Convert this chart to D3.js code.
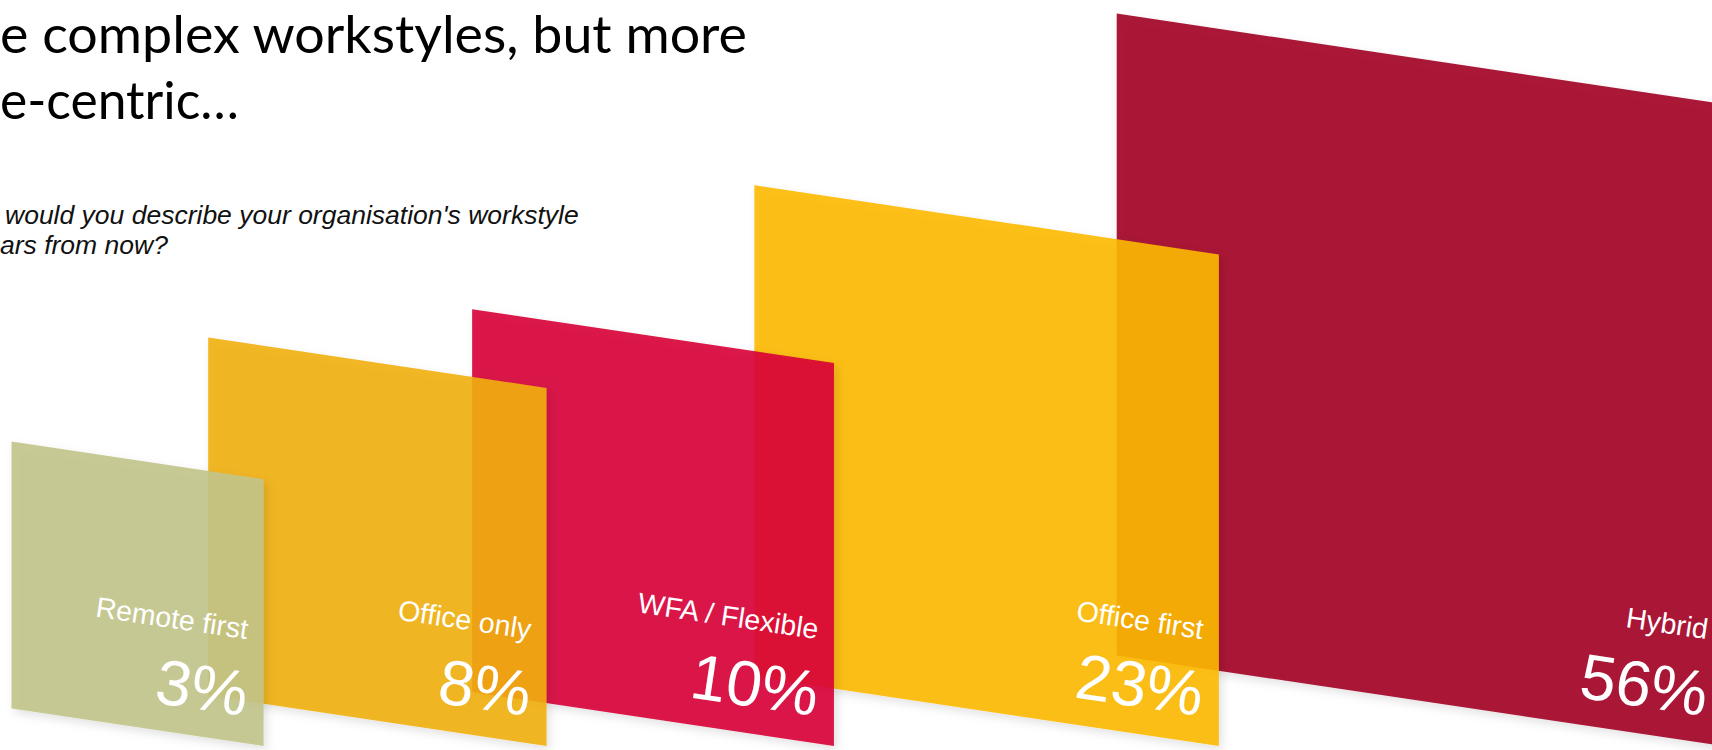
<!DOCTYPE html>
<html>
<head>
<meta charset="utf-8">
<script src="https://cdn.jsdelivr.net/npm/d3@7"></script>
<style>
  body { margin: 0; background: #ffffff; }
  svg { display: block; }
</style>
</head>
<body>
<script>
// Survey answers, smallest to largest
const categories = ["Remote first", "Office only", "WFA / Flexible", "Office first", "Hybrid"];
const shares = [3, 8, 10, 23, 56];
const panelColors = ["#c2c48a", "#f1af12", "#d80136", "#fdb902", "#a20025"];
const titleLines = ["e complex workstyles, but more", "e-centric…"];
const questionLines = ["would you describe your organisation's workstyle", "ars from now?"];

const W = 1712, H = 750;
const svg = d3.select("body").append("svg")
  .attr("width", W).attr("height", H)
  .attr("viewBox", `0 0 ${W} ${H}`);

// soft shadow under each sheet
const defs = svg.append("defs");
defs.append("filter").attr("id", "sheetShadow")
  .attr("x", "-10%").attr("y", "-10%").attr("width", "125%").attr("height", "125%")
  .append("feDropShadow")
  .attr("dx", 3).attr("dy", 4).attr("stdDeviation", 5)
  .attr("flood-color", "#000").attr("flood-opacity", 0.13);

// Headline
const title = svg.append("g").attr("font-family", "Lato, 'Open Sans', sans-serif").attr("fill", "#000");
const titleLayout = [{ x: 0, y: 53, len: 747 }, { x: 0, y: 119, len: 239 }];
titleLines.forEach((t, i) => {
  title.append("text")
    .attr("x", titleLayout[i].x).attr("y", titleLayout[i].y)
    .attr("font-size", 53)
    .attr("textLength", titleLayout[i].len)
    .attr("lengthAdjust", "spacingAndGlyphs")
    .text(t);
});

// Question
const question = svg.append("g")
  .attr("font-family", "'Liberation Sans', Arial, sans-serif")
  .attr("font-style", "italic").attr("font-size", 26.5).attr("fill", "#111");
const qLayout = [{ x: 5, y: 224 }, { x: 0, y: 254 }];
questionLines.forEach((t, i) => {
  question.append("text").attr("x", qLayout[i].x).attr("y", qLayout[i].y).text(t);
});

// Sheet geometry: size grows with the share, sheets tilt along a common slope
const slope = 0.149;
const angle = Math.atan(slope) * 180 / Math.PI;
const size = d3.scalePow().exponent(0.3).domain([0, d3.max(shares)]).range([0, 642]);
const aspect = 0.945;   // width / height of a sheet
const stride = 0.78;    // next sheet starts this fraction across the previous one
const baseY = 746;      // bottom-right corners sit on this line
const startX = 11.5;

const panels = [];
let cursor = startX;
shares.forEach((v, i) => {
  const h = size(v), w = h * aspect;
  panels.push({ cat: categories[i], value: v, color: panelColors[i], h, w, x0: cursor, x1: cursor + w });
  cursor += w * stride;
});

const fmt = d => d3.format(".0%")(d / 100);

// draw from the back (largest) to the front (smallest)
const layer = svg.append("g");
const groups = layer.selectAll("g.sheet")
  .data(panels.slice().reverse())
  .join("g").attr("class", "sheet");

groups.append("path")
  .attr("d", d => {
    const bl = baseY - slope * d.w;
    const p = d3.path();
    p.moveTo(d.x0, bl - d.h);
    p.lineTo(d.x1, baseY - d.h);
    p.lineTo(d.x1, baseY);
    p.lineTo(d.x0, bl);
    p.closePath();
    return p.toString();
  })
  .attr("fill", d => d.color)
  .attr("fill-opacity", 0.9)
  .attr("filter", "url(#sheetShadow)");

const labelFont = "'Liberation Sans', Arial, sans-serif";
groups.each(function (d) {
  const g = d3.select(this);
  const px = d.x1 - 19;
  const py = baseY - slope * 19 - 27;
  g.append("text")
    .attr("transform", `translate(${px},${py}) rotate(${angle})`)
    .attr("text-anchor", "end")
    .attr("font-family", labelFont).attr("font-size", 64)
    .attr("fill", "#fff")
    .text(fmt(d.value));
  g.append("text")
    .attr("transform", `translate(${px + 2},${py - 77}) rotate(${angle})`)
    .attr("text-anchor", "end")
    .attr("font-family", labelFont).attr("font-size", 28.5)
    .attr("fill", "#fff")
    .text(d.cat);
});
</script>
</body>
</html>
